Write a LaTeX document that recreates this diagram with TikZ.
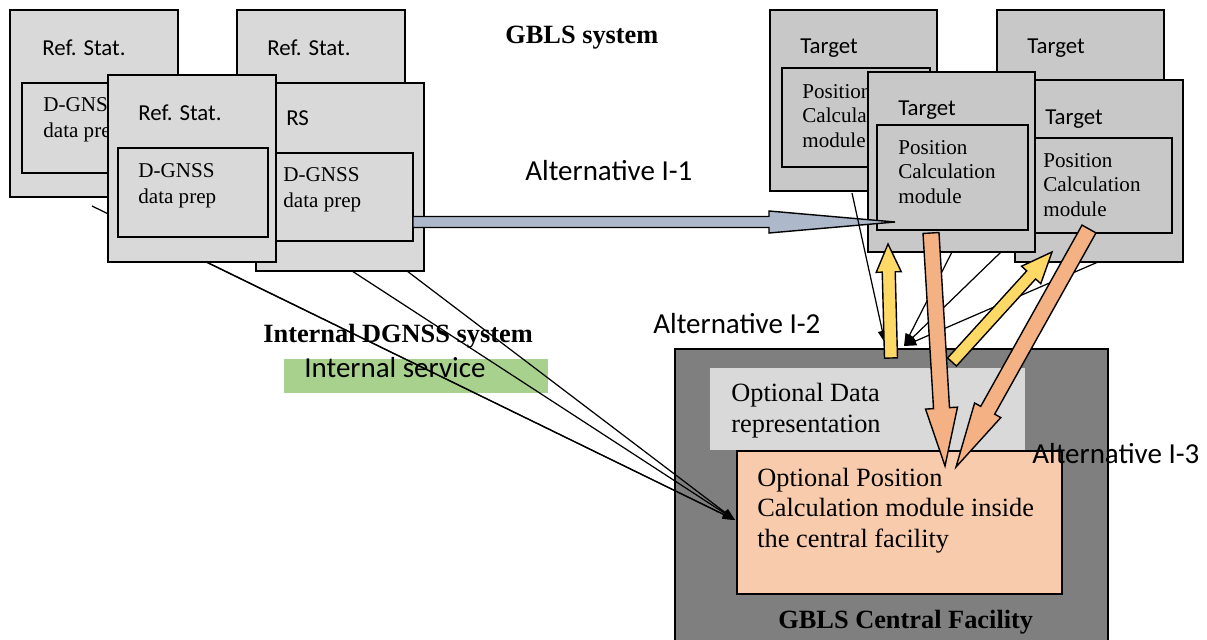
\documentclass[tikz,border=0pt]{standalone}
\usepackage{fontspec}
\setmainfont{Liberation Serif}
\setsansfont{Carlito}
\usetikzlibrary{calc,fit,arrows.meta}

\definecolor{refgray}{HTML}{D9D9D9}
\definecolor{tgtgray}{HTML}{C8C8C8}
\definecolor{facgray}{HTML}{7F7F7F}
\definecolor{peach}{HTML}{F8CBAD}
\definecolor{orangearr}{HTML}{F4B183}
\definecolor{yellowarr}{HTML}{FFD966}
\definecolor{bluearr}{HTML}{ADB9CA}
\definecolor{srvgreen}{HTML}{A9D18E}

% fat arrow: style, start, tip, shaft half width, head half width, head length
\newcommand{\fatarrow}[6]{%
  \coordinate (fa-base) at ($(#3)!#6!(#2)$);
  \draw[#1] ($(#2)!#4!90:(#3)$) -- ($(fa-base)!#4!-90:(#2)$) -- ($(fa-base)!#5!-90:(#2)$) -- (#3)
    -- ($(fa-base)!#5!90:(#2)$) -- ($(fa-base)!#4!90:(#2)$) -- ($(#2)!#4!-90:(#3)$) -- cycle;}

\tikzset{
  refbox/.style={draw=black, line width=0.8pt, fill=refgray, inner sep=0pt},
  tgtbox/.style={draw=black, line width=0.8pt, fill=tgtgray, inner sep=0pt},
  sflab/.style={font=\sffamily\fontsize{13}{15.6}\selectfont, anchor=base west, inner sep=0pt},
  altlab/.style={font=\sffamily\fontsize{16.5}{19}\selectfont, anchor=base west, inner sep=0pt},
  dptxt/.style={font=\fontsize{12}{14.7}\selectfont, align=left, anchor=base west, inner sep=0pt},
  pctxt/.style={font=\fontsize{12}{13.8}\selectfont, align=left, anchor=base west, inner sep=0pt},
  bigtxt/.style={font=\fontsize{15}{17.3}\selectfont, align=left, anchor=base west, inner sep=0pt},
  headtxt/.style={font=\bfseries\fontsize{15}{18}\selectfont, anchor=base west, inner sep=0pt},
  link/.style={line width=0.7pt, -{Triangle[length=7pt,width=5pt]}},
  fat/.style={draw=black, line width=0.8pt, line join=miter}
}

\begin{document}
\begin{tikzpicture}[x=0.02cm,y=-0.02cm]
    \useasboundingbox (0,0) rectangle (1207,639);

    % central facility (multi-line texts sit on their last baseline)
    \node[draw=black, line width=0.8pt, fill=facgray, inner sep=0pt, fit={(675,349)(1108,650)}] (fac) {};
    \node[fill=refgray, inner sep=0pt, fit={(710,368)(1025,450)}] (optdata) {};
    \node[draw=black, line width=0.8pt, fill=peach, inner sep=0pt, fit={(737,451)(1062,594)}] (optpos) {};
    \node[bigtxt] (optdata-txt) at (731,432) {Optional Data\\representation};
    \node[bigtxt] (optpos-txt) at (757,547) {Optional Position\\Calculation module inside\\the central facility};
    \node[headtxt] (fac-txt) at (778,628) {GBLS Central Facility};

    % internal dgnss labels
    \node[headtxt] (dgnss-txt) at (263,342) {Internal DGNSS system};
    \node[fill=srvgreen, inner sep=0pt, fit={(284,359)(548,393)}] (intsrv) {};
    \node[altlab] (intsrv-txt) at (304,377) {Internal service};

    % line from the hidden station
    \coordinate (rs1-out) at (92,206);
    \coordinate (optpos-in) at (735,520);
    \draw[link] (rs1-out) -- (optpos-in);

    % reference stations
    \node[refbox, fit={(10,10)(178,197)}] (rs1) {};
    \node[sflab] (rs1-lab) at (42,55) {Ref. Stat.};
    \node[refbox, fit={(22,83)(170,173)}] (rs1-dp) {};
    \node[dptxt] (rs1-txt) at (43,137) {D-GNSS\\data prep};

    \node[refbox, fit={(237,10)(405,190)}] (rs2) {};
    \node[sflab] (rs2-lab) at (267,55) {Ref. Stat.};

    \node[refbox, fit={(256,83)(424,271)}] (rs) {};
    \node[sflab] (rs-lab) at (286,125) {RS};
    \node[refbox, fit={(276,153)(413,241)}] (rs-dp) {};
    \node[dptxt] (rs-txt) at (283,207) {D-GNSS\\data prep};

    \node[refbox, fit={(108,75)(276,262)}] (rs3) {};
    \node[sflab] (rs3-lab) at (138,120) {Ref. Stat.};
    \node[refbox, fit={(118,148)(268,237)}] (rs3-dp) {};
    \node[dptxt] (rs3-txt) at (138,203) {D-GNSS\\data prep};

    % targets
    \node[tgtbox, fit={(770,10)(937,191)}] (tg1) {};
    \node[sflab] (tg1-lab) at (800,53) {Target};
    \node[tgtbox, fit={(782,68)(930,167)}] (tg1-pc) {};
    \node[pctxt] (tg1-txt) at (802,147) {Position\\Calculation\\module};

    \node[tgtbox, fit={(997,10)(1164,90)}] (tg2) {};
    \node[sflab] (tg2-lab) at (1027,53) {Target};

    \node[tgtbox, fit={(1015,80)(1183,262)}] (tg4) {};
    \node[sflab] (tg4-lab) at (1045,124) {Target};
    \node[tgtbox, fit={(1035,138)(1172,233)}] (tg4-pc) {};
    \node[pctxt] (tg4-txt) at (1043,216) {Position\\Calculation\\module};

    \node[tgtbox, fit={(868,72)(1035,252)}] (tg3) {};
    \node[sflab] (tg3-lab) at (898,115) {Target};
    \node[tgtbox, fit={(877,125)(1028,230)}] (tg3-pc) {};
    \node[pctxt] (tg3-txt) at (898,203) {Position\\Calculation\\module};

    % alternative I-1
    \coordinate (blue-s) at (413,222);
    \coordinate (blue-t) at (895,222);
    \fatarrow{fat, fill=bluearr}{blue-s}{blue-t}{0.11cm}{0.22cm}{2.52cm}

    % links to the central facility
    \coordinate (rs3-out) at (206,262);
    \coordinate (rs-out1) at (352,271);
    \coordinate (rs-out2) at (407,271);
    \draw[link] (rs3-out) -- (optpos-in);
    \draw[link] (rs-out1) -- (optpos-in);
    \draw[link] (rs-out2) -- (optpos-in);

    \coordinate (tg1-out) at (852,193);
    \coordinate (tg3-out1) at (952,252);
    \coordinate (tg3-out2) at (1001,252);
    \coordinate (tg4-out) at (1098,262);
    \coordinate (fac-in1) at (885,343);
    \coordinate (fac-in2) at (904,346);
    \draw[link] (tg1-out) -- (fac-in1);
    \draw[link] (tg3-out1) -- (fac-in2);
    \draw[link] (tg3-out2) -- (fac-in2);
    \draw[link] (tg4-out) -- (fac-in2);

    % alternative I-2
    \coordinate (yel1-s) at (891,358);
    \coordinate (yel1-t) at (888,244);
    \fatarrow{fat, fill=yellowarr}{yel1-s}{yel1-t}{0.13cm}{0.25cm}{0.56cm}
    \coordinate (yel2-s) at (952,362);
    \coordinate (yel2-t) at (1052,252);
    \fatarrow{fat, fill=yellowarr}{yel2-s}{yel2-t}{0.12cm}{0.26cm}{0.62cm}

    % alternative I-3
    \coordinate (or1-s) at (931,233);
    \coordinate (or1-t) at (945,466);
    \fatarrow{fat, fill=orangearr}{or1-s}{or1-t}{0.16cm}{0.32cm}{1.16cm}
    \coordinate (or2-s) at (1089,229);
    \coordinate (or2-t) at (956,467);
    \fatarrow{fat, fill=orangearr}{or2-s}{or2-t}{0.16cm}{0.3cm}{1.3cm}

    % labels
    \node[headtxt] (gbls-txt) at (505,43) {GBLS system};
    \node[altlab] (alt1) at (525,180) {Alternative I-1};
    \node[altlab] (alt2) at (653,333) {Alternative I-2};
    \node[altlab] (alt3) at (1032,463) {Alternative I-3};
\end{tikzpicture}
\end{document}
